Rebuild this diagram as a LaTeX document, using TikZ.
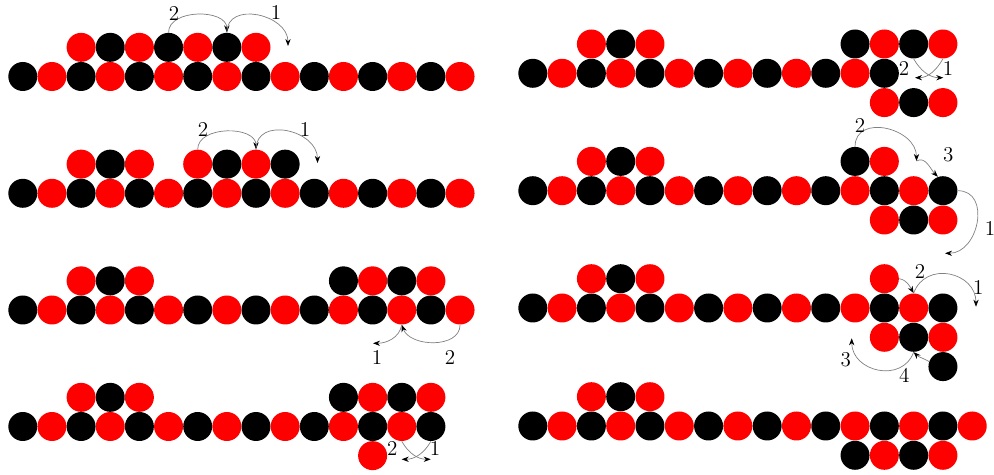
\documentclass[tikz,border=0pt]{standalone}
\usepackage{tikz}
\usetikzlibrary{arrows.meta}

% one row of beads: name prefix, row offset, list of columns
\newcommand{\beads}[3]{%
  \foreach \i in {#3}{%
    \pgfmathtruncatemacro{\c}{mod(\i+#2+100,2)}%
    \node[bead\c] (#1-\i) at (\i*29.15, -#2*29.15) {};}}

\begin{document}
\begin{tikzpicture}[x=0.02cm, y=-0.02cm,
  bead/.style={circle, inner sep=0pt, minimum size=0.58cm},
  bead0/.style={bead, fill=black},
  bead1/.style={bead, fill=red},
  hop/.style={draw=gray, line width=0.4pt, -{Stealth[black, length=4pt, width=3pt]}},
  num/.style={font=\large, inner sep=0pt}
]
  \useasboundingbox (0,0) rectangle (994,475);

  % left column
  \begin{scope}[shift={(22.8,76.5)}]
    \beads{L1b}{0}{0,...,15}
    \beads{L1a}{1}{2,...,8}
  \end{scope}
  \begin{scope}[shift={(22.8,193.3)}]
    \beads{L2b}{0}{0,...,15}
    \beads{L2a}{1}{2,3,4,6,7,8,9}
  \end{scope}
  \begin{scope}[shift={(22.8,310)}]
    \beads{L3b}{0}{0,...,15}
    \beads{L3a}{1}{2,3,4,11,12,13,14}
  \end{scope}
  \begin{scope}[shift={(22.8,426.5)}]
    \beads{L4b}{0}{0,...,14}
    \beads{L4a}{1}{2,3,4,11,12,13,14}
    \beads{L4c}{-1}{12}
  \end{scope}

  % right column
  \begin{scope}[shift={(532.8,73.3)}, scale=1.005]
    \beads{R1b}{0}{0,...,12}
    \beads{R1a}{1}{2,3,4,11,12,13,14}
    \beads{R1c}{-1}{12,13,14}
  \end{scope}
  \begin{scope}[shift={(532.8,190.7)}, scale=1.005]
    \beads{R2b}{0}{0,...,14}
    \beads{R2a}{1}{2,3,4,11,12}
    \beads{R2c}{-1}{12,13,14}
  \end{scope}
  \begin{scope}[shift={(532.8,308)}, scale=1.005]
    \beads{R3b}{0}{0,...,14}
    \beads{R3a}{1}{2,3,4,12}
    \beads{R3c}{-1}{12,13,14}
    \beads{R3d}{-2}{14}
  \end{scope}
  \begin{scope}[shift={(532.8,426)}, scale=1.005]
    \beads{R4b}{0}{0,...,15}
    \beads{R4a}{1}{2,3,4}
    \beads{R4c}{-1}{11,12,13,14}
  \end{scope}

  % moves, panel L1
  \coordinate (L1t) at (288,46);
  \draw[hop] (L1a-5.north) to[out=90, in=90, looseness=1.05] (L1a-7.north);
  \draw[hop] (L1a-7.north) to[out=90, in=90, looseness=1.3] (L1t);
  \node[num] (L1n2) at (174,13) {2};
  \node[num] (L1n1) at (276,12) {1};

  % panel L2
  \coordinate (L2t) at (317.5,163);
  \draw[hop] (L2a-6.north) to[out=90, in=90, looseness=1.05] (L2a-8.north);
  \draw[hop] (L2a-8.north) to[out=90, in=90, looseness=1.35] (L2t);
  \node[num] (L2n2) at (203,129) {2};
  \node[num] (L2n1) at (305,129) {1};

  % panel L3
  \coordinate (L3t) at (373,343.3);
  \draw[hop] (L3b-15.south) to[out=-90, in=-70, looseness=1.05] (L3b-13.south);
  \draw[hop] (L3b-13.south) to[out=-100, in=0] (L3t);
  \node[num] (L3n1) at (377,357) {1};
  \node[num] (L3n2) at (450,357) {2};

  % panel L4
  \coordinate (L4l) at (401.7,459.3);
  \coordinate (L4r) at (430.7,459.3);
  \draw[hop] (L4b-13.south) to[out=-60, in=180] (L4r);
  \draw[hop] (L4b-14.south) to[out=-120, in=0] (L4l);
  \node[num] (L4n2) at (392.3,448.3) {2};
  \node[num] (L4n1) at (435,448.3) {1};

  % panel R1
  \coordinate (R1l) at (915,77.7);
  \coordinate (R1r) at (943.3,77.7);
  \draw[hop] (R1a-13.south) to[out=-60, in=180] (R1r);
  \draw[hop] (R1a-14.south) to[out=-120, in=0] (R1l);
  \node[num] (R1n2) at (904,68.3) {2};
  \node[num] (R1n1) at (948,68.3) {1};

  % panel R2
  \coordinate (R2m) at (916.5,161);
  \coordinate (R2t) at (945,253.3);
  \draw[hop] (R2a-11.north) to[out=90, in=90, looseness=1.35] (R2m);
  \draw[hop] (R2m) to[out=30, in=135] (R2b-14.110);
  \draw[hop] (R2b-14.east) to[out=0, in=0, looseness=1.35] (R2t);
  \node[num] (R2n2) at (860,125) {2};
  \node[num] (R2n3) at (948.3,155) {3};
  \node[num] (R2n1) at (990,228) {1};

  % panel R3
  \coordinate (R3t1) at (976,306.7);
  \coordinate (R3t3) at (851.7,338.3);
  \draw[hop] (R3a-12.east) to[out=-10, in=120] (R3b-13.north);
  \draw[hop] (R3b-13.north) to[out=70, in=90, looseness=1.4] (R3t1);
  \draw[hop] (R3d-14.160) to[out=150, in=-45] (R3c-13.south);
  \draw[hop] (R3c-13.south) to[out=-110, in=-90, looseness=1.35] (R3t3);
  \node[num] (R3n2) at (920,271.7) {2};
  \node[num] (R3n1) at (978.3,287.3) {1};
  \node[num] (R3n3) at (845.7,360) {3};
  \node[num] (R3n4) at (904.3,375) {4};
\end{tikzpicture}
\end{document}
